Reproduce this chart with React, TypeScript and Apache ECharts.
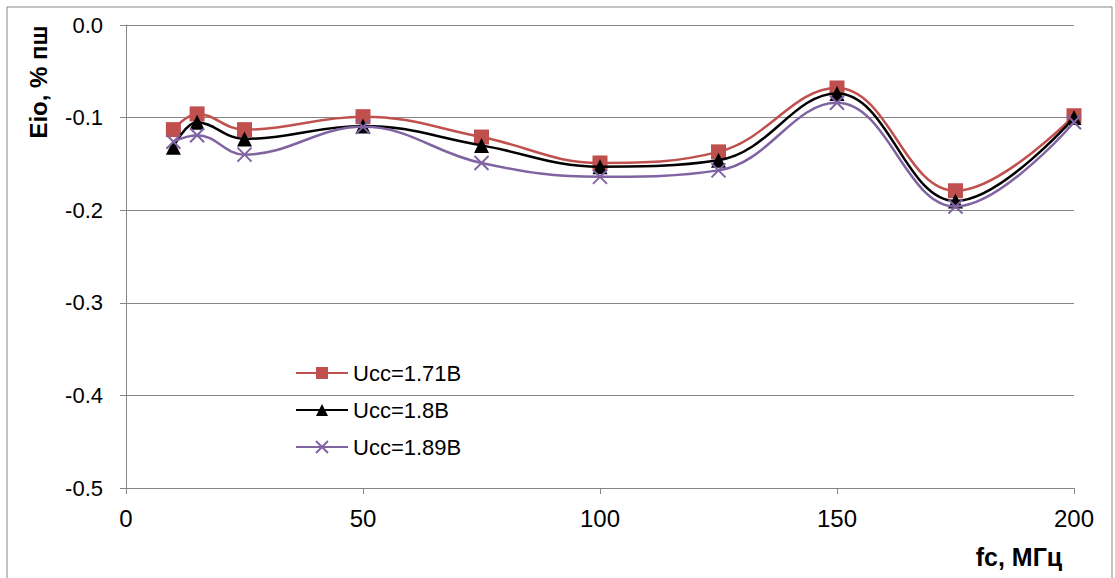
import React, { useEffect, useRef } from "react";
import * as echarts from "echarts";

const freqs = [10, 15, 25, 50, 75, 100, 125, 150, 175, 200];
const ucc171 = [-0.113, -0.096, -0.113, -0.099, -0.121, -0.149, -0.137, -0.068, -0.179, -0.098];
const ucc180 = [-0.132, -0.105, -0.123, -0.109, -0.13, -0.153, -0.146, -0.074, -0.19, -0.1];
const ucc189 = [-0.126, -0.119, -0.14, -0.11, -0.149, -0.164, -0.157, -0.084, -0.196, -0.105];
const seriesNames = ["Ucc=1.71В", "Ucc=1.8В", "Ucc=1.89В"];
const yTicks = [0, -0.1, -0.2, -0.3, -0.4, -0.5];
const xTicks = [0, 50, 100, 150, 200];

const FONT = "Liberation Sans";

export default function App() {
  const ref = useRef<HTMLDivElement>(null);
  useEffect(() => {
    document.body.style.margin = "0";
    const chart = echarts.init(ref.current!, undefined, { renderer: "svg" });
    const pair = (ys: number[]) => freqs.map((x, i) => [x, ys[i]]);
    const crossPath = "path://M0,0L10,10M10,0L0,10";
    chart.setOption({
      animation: false,
      backgroundColor: "#fff",
      grid: { left: 126, right: 41, top: 25, bottom: 90 },
      xAxis: {
        type: "value",
        min: xTicks[0],
        max: xTicks[xTicks.length - 1],
        interval: 50,
        axisLine: { show: true, onZero: false, lineStyle: { color: "#868686", width: 1 } },
        axisTick: { show: true, length: 6, lineStyle: { color: "#868686" } },
        splitLine: { show: false },
        axisLabel: { color: "#000", fontFamily: FONT, fontSize: 24, margin: 18 },
      },
      yAxis: {
        type: "value",
        min: yTicks[yTicks.length - 1],
        max: yTicks[0],
        interval: 0.1,
        axisLine: { show: true, onZero: false, lineStyle: { color: "#868686", width: 1 } },
        axisTick: { show: true, length: 6, lineStyle: { color: "#868686" } },
        splitLine: { show: true, lineStyle: { color: "#868686", width: 1 } },
        axisLabel: {
          color: "#000",
          fontFamily: FONT,
          fontSize: 22,
          margin: 23,
          formatter: (v: number) => (Math.abs(v) < 1e-9 ? "0.0" : v.toFixed(1)),
        },
      },
      legend: {
        orient: "vertical",
        left: 295,
        top: 362,
        padding: 0,
        itemGap: 15,
        itemWidth: 52,
        itemHeight: 15,
        textStyle: { color: "#000", fontFamily: FONT, fontSize: 22, lineHeight: 22 },
        data: seriesNames,
      },
      graphic: [
        {
          type: "rect",
          shape: { x: 7, y: 7, width: 1105, height: 590 },
          style: { fill: "none", stroke: "#868686", lineWidth: 1 },
          silent: true,
        },
        {
          type: "text",
          x: 38,
          y: 82,
          rotation: Math.PI / 2,
          style: {
            text: "Eio, % пш",
            fontFamily: FONT,
            fontWeight: "bold",
            fontSize: 24,
            fill: "#000",
            align: "center",
            verticalAlign: "middle",
          },
        },
        {
          type: "text",
          x: 1019,
          y: 557,
          style: {
            text: "fc, МГц",
            fontFamily: FONT,
            fontWeight: "bold",
            fontSize: 25,
            fill: "#000",
            align: "center",
            verticalAlign: "middle",
          },
        },
      ],
      series: [
        {
          name: seriesNames[0],
          type: "line",
          smooth: 0.4,
          data: pair(ucc171),
          symbol: "rect",
          symbolSize: 15,
          lineStyle: { color: "#C0504D", width: 2.5 },
          itemStyle: { color: "#C0504D" },
          z: 3,
        },
        {
          name: seriesNames[1],
          type: "line",
          smooth: 0.4,
          data: pair(ucc180),
          symbol: "triangle",
          symbolSize: 15,
          lineStyle: { color: "#000000", width: 2.5 },
          itemStyle: { color: "#000000" },
          z: 4,
        },
        {
          name: seriesNames[2],
          type: "line",
          smooth: 0.4,
          data: pair(ucc189),
          symbol: crossPath,
          symbolSize: 14,
          lineStyle: { color: "#8064A2", width: 2.5 },
          itemStyle: { color: "none", borderColor: "#8064A2", borderWidth: 2 },
          z: 5,
        },
      ],
    });
    return () => chart.dispose();
  }, []);
  return <div ref={ref} style={{ width: 1115, height: 578 }} />;
}
